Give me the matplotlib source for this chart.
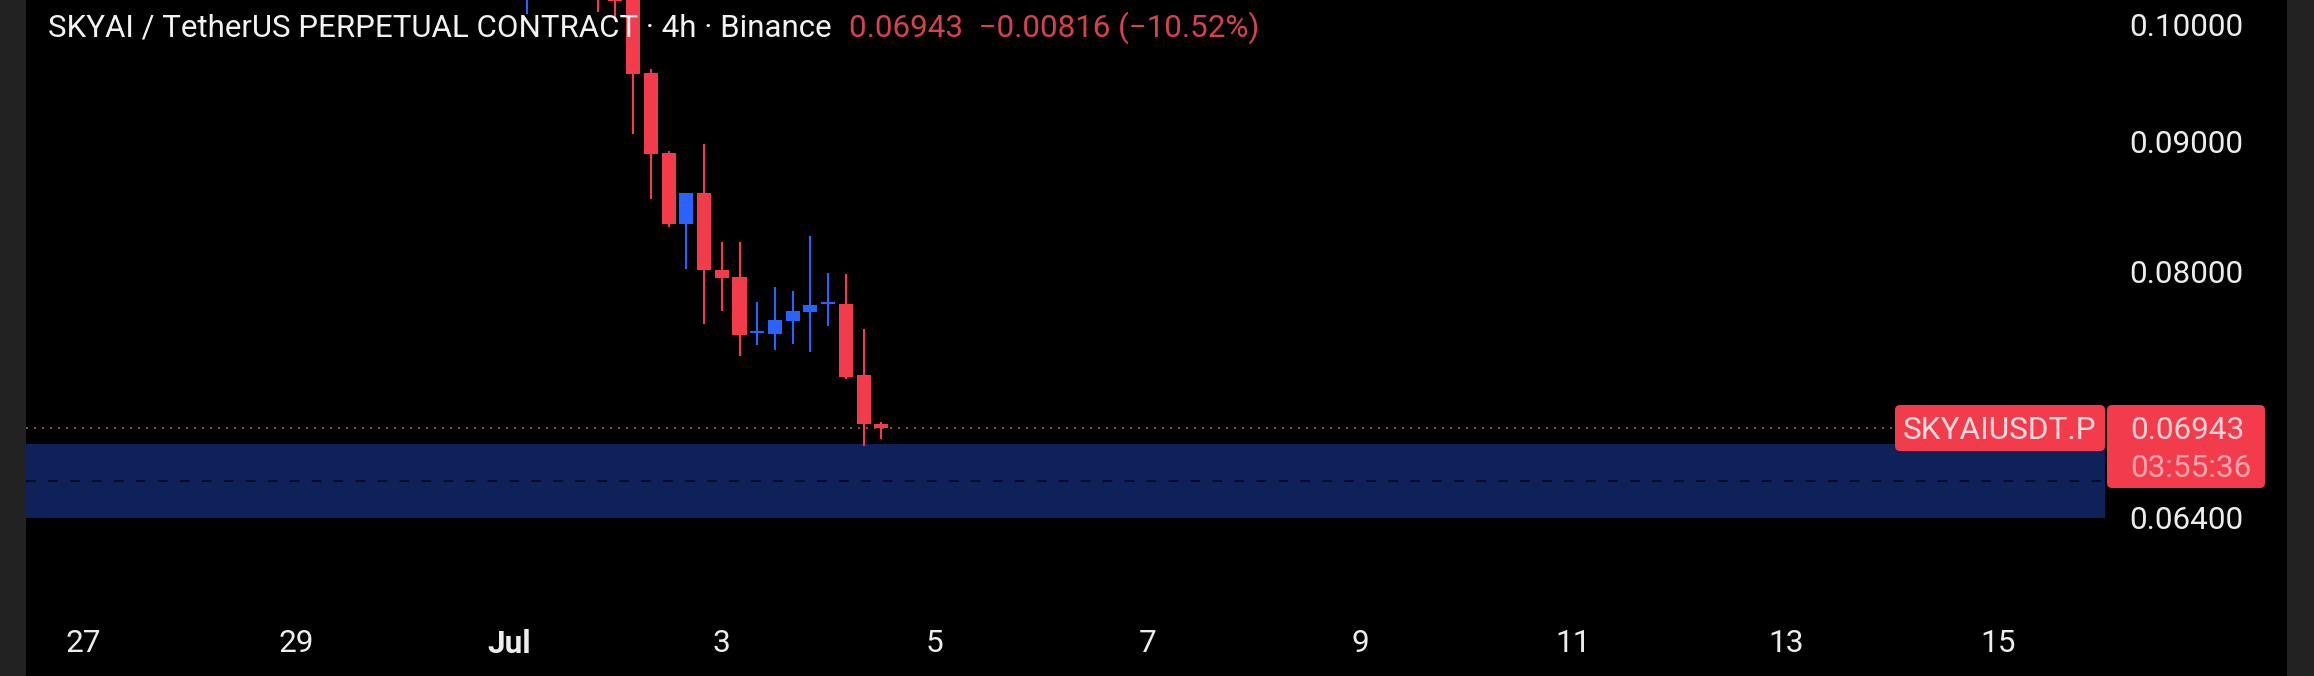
#!/usr/bin/env python3
"""SKYAI perpetual 4h candles with demand zone, dark theme."""
import matplotlib
matplotlib.use("Agg")
import matplotlib.pyplot as plt
import numpy as np
from matplotlib.patches import FancyBboxPatch, Rectangle
from matplotlib.transforms import IdentityTransform

plt.rcParams["font.family"] = ["Roboto", "DejaVu Sans"]

# candle number counted in 4h steps from Jul 1 00:00
candle_idx = [1, 5, 6, 7, 8, 9, 10, 11, 12, 13, 14, 15, 16, 17, 18, 19, 20, 21]
opens = [0.10400, 0.10420, 0.10300, 0.10413, 0.09574, 0.08905, 0.08351, 0.08588, 0.08010,
         0.07960, 0.07566, 0.07560, 0.07649, 0.07711, 0.07768, 0.07768, 0.07285, 0.06968]
highs = [0.10500, 0.10500, 0.10380, 0.10510, 0.09608, 0.08921, 0.08588, 0.08978, 0.08216,
         0.08216, 0.07782, 0.07888, 0.07860, 0.08261, 0.07989, 0.07981, 0.07594, 0.06981]
lows = [0.10099, 0.10117, 0.10062, 0.09059, 0.08542, 0.08328, 0.08017, 0.07628, 0.07718,
        0.07411, 0.07485, 0.07451, 0.07492, 0.07438, 0.07615, 0.07258, 0.06831, 0.06874]
closes = [0.10450, 0.10300, 0.10218, 0.09565, 0.08897, 0.08351, 0.08588, 0.08010, 0.07953,
          0.07553, 0.07570, 0.07656, 0.07718, 0.07761, 0.07772, 0.07271, 0.06968, 0.06943]

last_price = 0.06943
zone_low, zone_mid, zone_high = 0.06400, 0.06618, 0.06843

price_ticks = [0.06400, 0.08000, 0.09000, 0.10000]
day_ticks = [-4, -2, 0, 2, 4, 6, 8, 10, 12, 14]
day_labels = ["27", "29", "Jul", "3", "5", "7", "9", "11", "13", "15"]

RED = "#F23B4B"
BLUE = "#2962FF"
W, H = 2314, 676
FS = 22.7

fig = plt.figure(figsize=(W / 100, H / 100), dpi=100, facecolor="#222222")
fig.patches.append(Rectangle((26 / W, 0), (2287 - 26) / W, 1, transform=fig.transFigure,
                             facecolor="black", edgecolor="none", figure=fig, zorder=-1))

ax = fig.add_axes([26 / W, 1 - 600 / H, (2105 - 26) / W, 600 / H])
ax.set_facecolor("none")
ax.set_yscale("log")
ax.set_xlim(-4.539, 15.0)
ax.set_ylim(0.05942, 0.10228)

ax.axhspan(zone_low, zone_high, color="#0F2159", lw=0, zorder=1)
ax.axhline(zone_mid, color="#060C26", lw=1.4, dashes=(5, 6.3), zorder=2)
ax.axhline(last_price, color="#A05A5E", lw=1.2, dashes=(1.2, 3.6), zorder=2)

x = np.array(candle_idx) / 6
colors = [BLUE if c >= o else RED for o, c in zip(opens, closes)]
ax.vlines(x, lows, highs, colors=colors, lw=1.5, zorder=3)
body_low = np.minimum(opens, closes)
body_h = np.abs(np.array(closes) - np.array(opens))
ax.bar(x, np.maximum(body_h, 0.00012), bottom=body_low, width=0.132, color=colors, lw=0, zorder=4)

for s in ax.spines.values():
    s.set_visible(False)
ax.minorticks_off()
ax.yaxis.tick_right()
ax.set_yticks(price_ticks, [f"{p:.5f}" for p in price_ticks])
ax.set_xticks(day_ticks, day_labels)
ax.tick_params(axis="y", length=0, pad=17.5, labelsize=FS, labelcolor="#EDEDED")
ax.tick_params(axis="x", length=0, pad=21, labelsize=FS, labelcolor="#EDEDED")
ax.tick_params(axis="y", which="minor", length=0, labelright=False)
ax.get_xticklabels()[2].set_fontweight("bold")

# price tags are placed from the last price on the axis, in pixels
fig.canvas.draw()
yc = ax.transData.transform((0, last_price))[1]
tag = dict(boxstyle="round,pad=0,rounding_size=5", transform=IdentityTransform(),
           facecolor=RED, edgecolor="none", zorder=6)
ax.add_patch(FancyBboxPatch((1895, yc - 23), 210, 46, clip_on=False, **tag))
ax.add_patch(FancyBboxPatch((2107, yc - 60), 158, 83, clip_on=False, **tag))
ax.text(2000, yc - 3, "SKYAIUSDT.P", transform=IdentityTransform(), ha="center", va="center",
        color="#FBDDE0", fontsize=FS, zorder=7, clip_on=False)
ax.text(2187, yc - 3, f"{last_price:.5f}", transform=IdentityTransform(), ha="center", va="center",
        color="#FBD3D7", fontsize=FS, zorder=7, clip_on=False)
ax.text(2191, yc - 41, "03:55:36", transform=IdentityTransform(), ha="center", va="center",
        color="#F9A5AD", fontsize=FS, zorder=7, clip_on=False)

header_y = 1 - 28 / H
fig.text(48 / W, header_y, "SKYAI / TetherUS PERPETUAL CONTRACT · 4h · Binance", color="#F2F2F2",
         fontsize=22.5, va="center", zorder=8)
fig.text(849 / W, header_y, f"{last_price:.5f}  \u22120.00816 (\u221210.52%)", color="#D4434E",
         fontsize=22.6, va="center", zorder=8)

fig.savefig("out.png", dpi=100, facecolor=fig.get_facecolor())
